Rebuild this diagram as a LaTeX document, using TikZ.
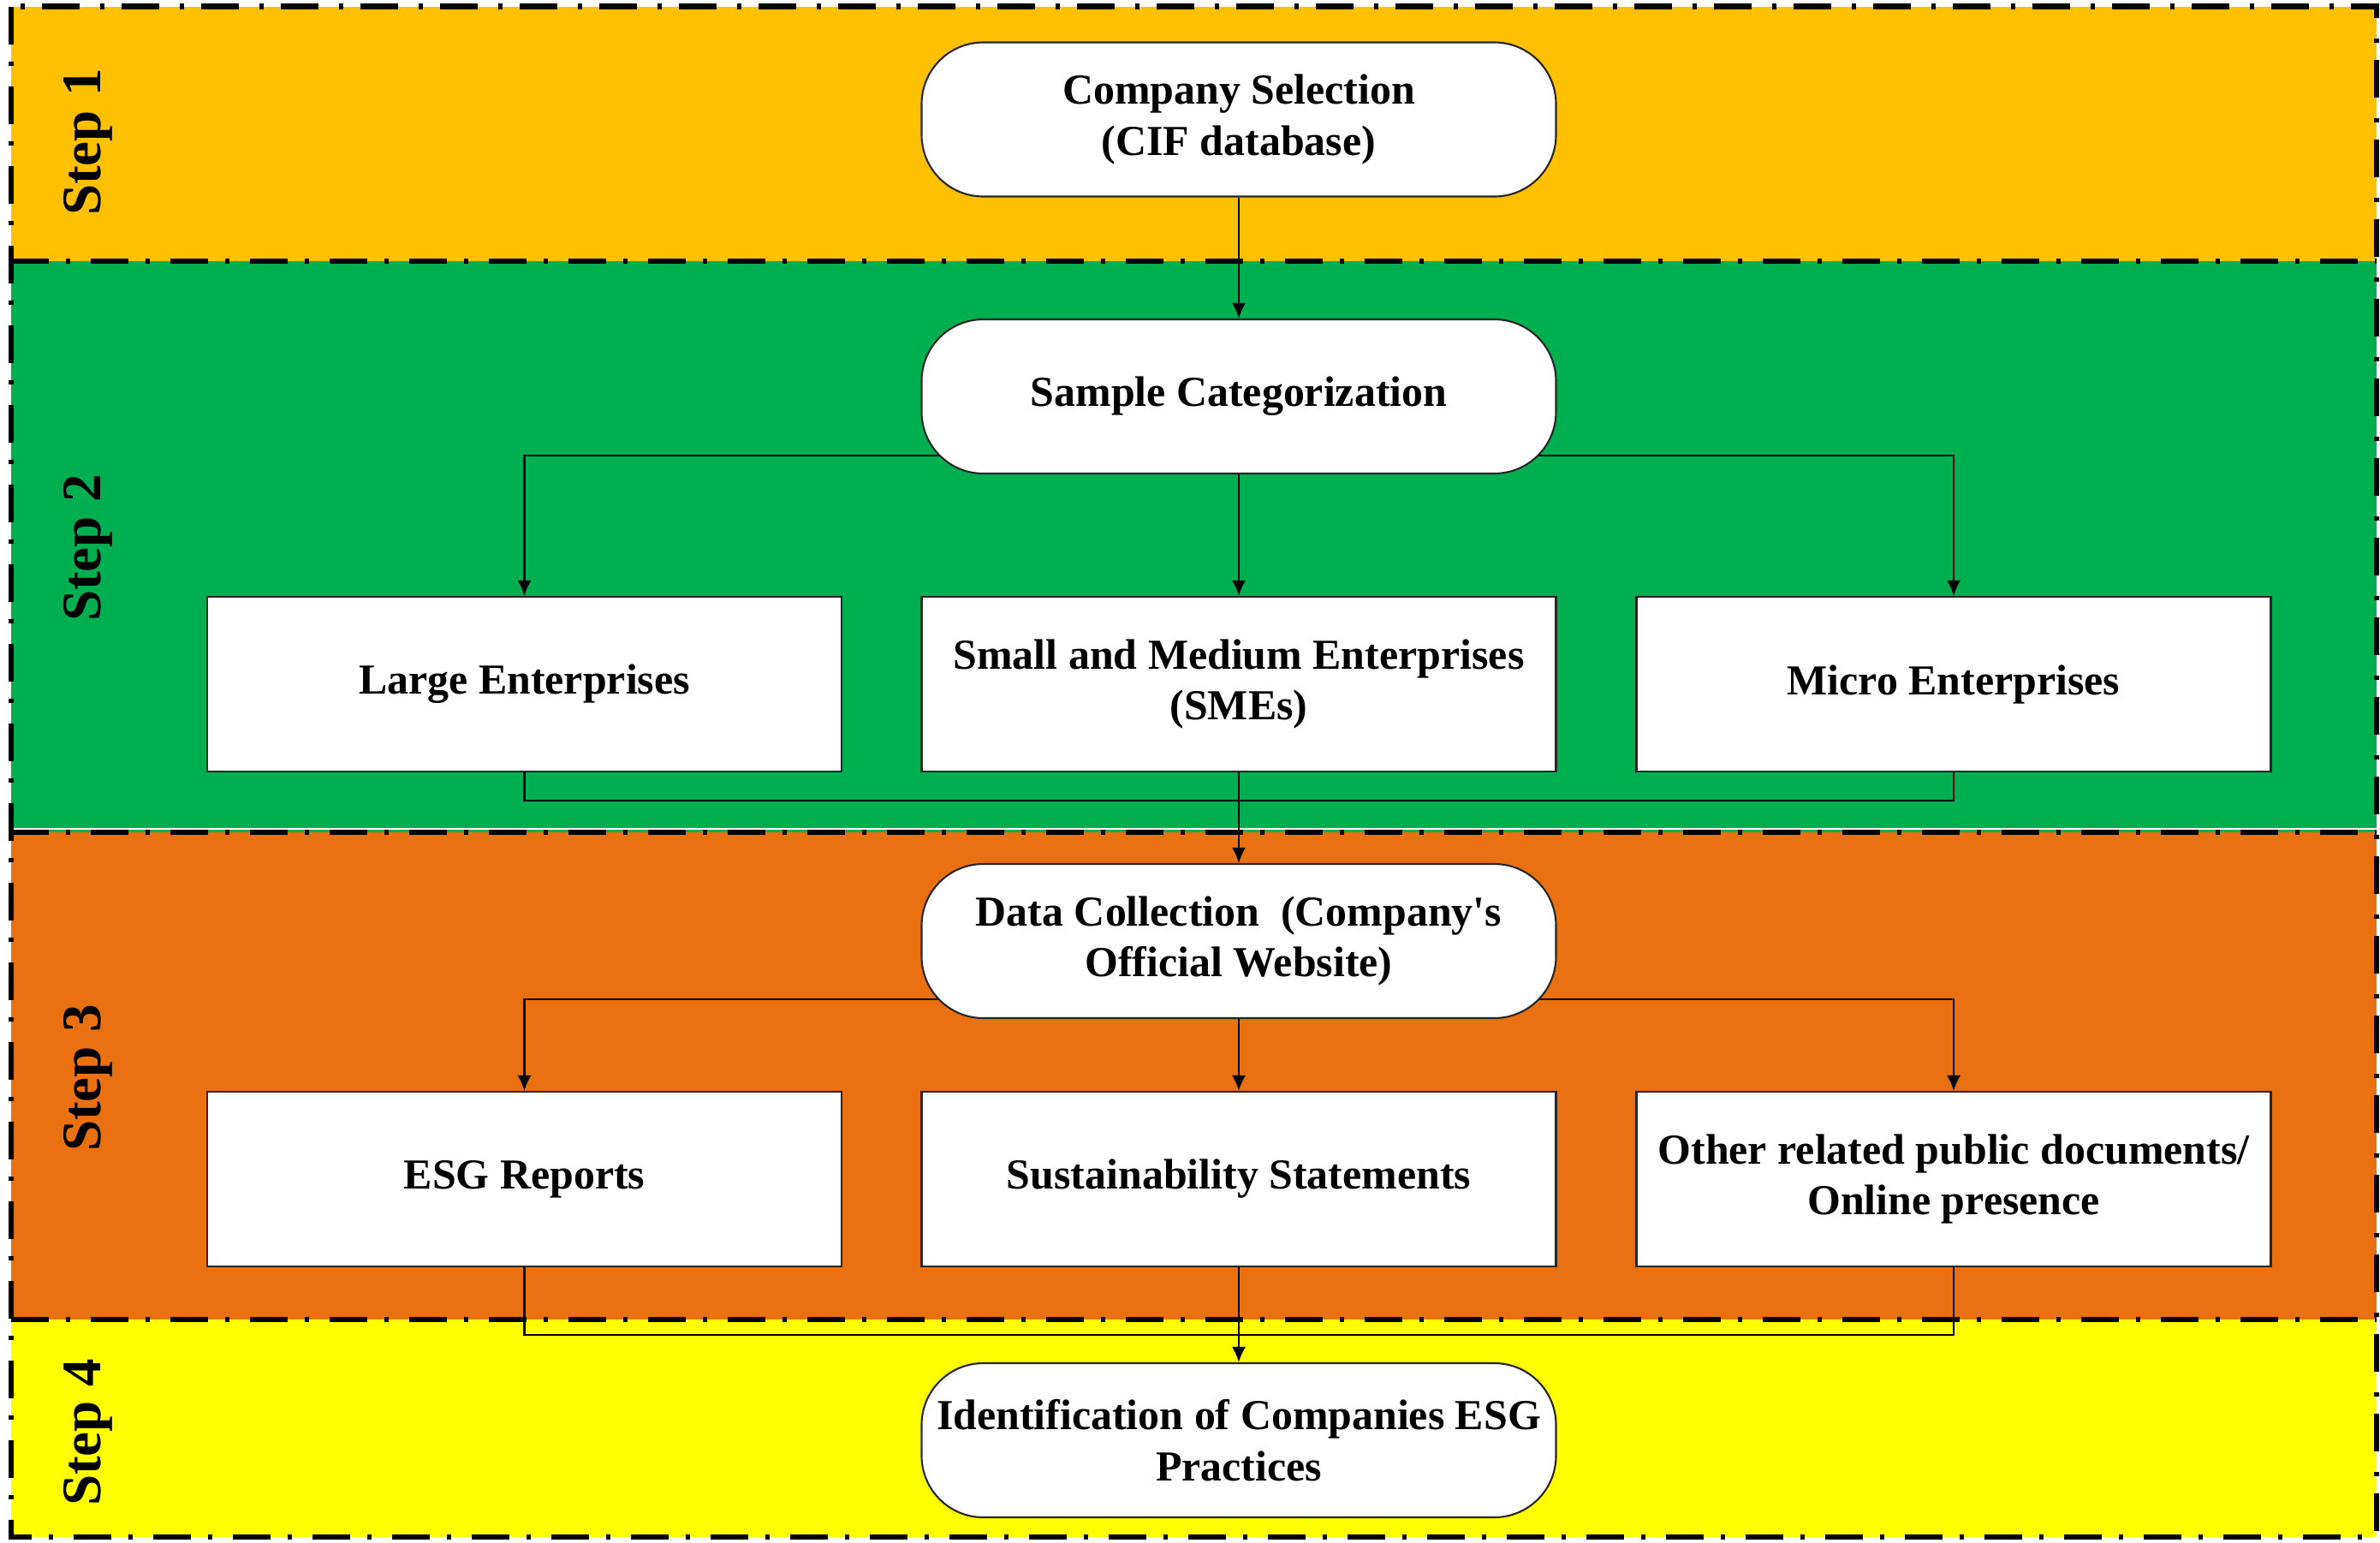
\documentclass[tikz,border=0pt]{standalone}
\usepackage{fontspec}
\setmainfont{Liberation Serif}
\usetikzlibrary{arrows.meta}
\definecolor{bandA}{HTML}{FFC000}
\definecolor{bandB}{HTML}{00B050}
\definecolor{bandC}{HTML}{E97111}
\definecolor{bandD}{HTML}{FFFF00}
\pgfdeclarelayer{bg}
\pgfdeclarelayer{lines}
\pgfsetlayers{bg,lines,main}
\begin{document}
\begin{tikzpicture}[x=1cm,y=1cm,
  boxtext/.style={font=\bfseries\fontsize{14.2}{17}\selectfont, align=center, inner sep=0pt},
  rbox/.style={boxtext, draw=black!85, line width=0.6pt, fill=white, rounded corners=0.72cm, minimum width=7.41cm, minimum height=1.80cm},
  sbox/.style={boxtext, draw=black!85, line width=0.6pt, fill=white, minimum width=7.41cm, minimum height=2.04cm},
  conn/.style={line width=0.6pt, draw=black},
  arr/.style={conn, -{Latex[length=0.18cm,width=0.16cm]}},
  bandline/.style={line width=1.9pt, dash pattern=on 0.44cm off 0.2cm on 0.05cm off 0.24cm},
  steplbl/.style={font=\bfseries\fontsize{18.5}{20}\selectfont, rotate=90, inner sep=0pt}]

\useasboundingbox (0,0) rectangle (27.8,-18.01);

% bands
\begin{pgfonlayer}{bg}
\fill[bandA] (0.13,-0.075) rectangle (27.76,-3.05);
\fill[bandB] (0.13,-3.05) rectangle (27.76,-9.72);
\fill[bandC] (0.13,-9.72) rectangle (27.76,-15.41);
\fill[bandD] (0.13,-15.41) rectangle (27.76,-17.95);
\draw[white, line width=0.8pt] (0.13,-9.68) -- (27.76,-9.68);
\draw[bandline] (0.13,-0.075) rectangle (27.76,-17.95);
\draw[bandline] (0.13,-3.05) -- (27.76,-3.05);
\draw[bandline] (0.13,-9.72) -- (27.76,-9.72);
\draw[bandline] (0.13,-15.41) -- (27.76,-15.41);
\end{pgfonlayer}

% step labels
\node[steplbl] (s1) at (1.03,-1.66) {Step 1};
\node[steplbl] (s2) at (1.03,-6.40) {Step 2};
\node[steplbl] (s3) at (1.03,-12.59) {Step 3};
\node[steplbl] (s4) at (1.03,-16.73) {Step 4};

% nodes
\node[rbox] (cs) at (14.47,-1.395) {Company Selection\\(CIF database)};
\node[rbox] (sc) at (14.47,-4.63) {Sample Categorization};
\node[sbox] (le) at (6.125,-7.99) {Large Enterprises};
\node[sbox] (sme) at (14.47,-7.99) {Small and Medium Enterprises\\(SMEs)};
\node[sbox] (me) at (22.82,-7.99) {Micro Enterprises};
\node[rbox] (dc) at (14.47,-10.99) {Data Collection~~(Company\textquotesingle s\\Official Website)};
\node[sbox] (esg) at (6.125,-13.77) {ESG Reports};
\node[sbox] (ss) at (14.47,-13.77) {Sustainability Statements};
\node[sbox] (ord) at (22.82,-13.77) {Other related public documents/\\Online presence};
\node[rbox] (id) at (14.47,-16.82) {Identification of Companies ESG\\Practices};

% junction coordinates
\coordinate (br2) at (14.47,-5.32);
\coordinate (mg2) at (14.47,-9.35);
\coordinate (br3) at (14.47,-11.67);
\coordinate (mg3) at (14.47,-15.59);

% connectors
\begin{pgfonlayer}{lines}
\draw[arr] (cs.south) -- (sc.north);
\draw[arr] (br2) -| (le.north);
\draw[arr] (br2) -| (me.north);
\draw[arr] (sc.south) -- (sme.north);
\draw[conn] (le.south) |- (mg2) -| (me.south);
\draw[arr] (sme.south) -- (dc.north);
\draw[arr] (br3) -| (esg.north);
\draw[arr] (br3) -| (ord.north);
\draw[arr] (dc.south) -- (ss.north);
\draw[conn] (esg.south) |- (mg3) -| (ord.south);
\draw[arr] (ss.south) -- (id.north);
\end{pgfonlayer}
\end{tikzpicture}
\end{document}
